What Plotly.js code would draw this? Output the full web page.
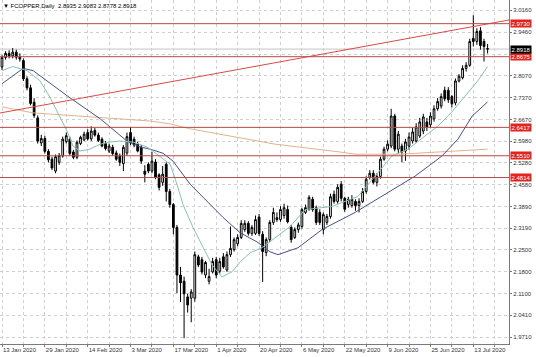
<!DOCTYPE html>
<html><head><meta charset="utf-8">
<script src="https://cdn.plot.ly/plotly-3.0.1.min.js"></script>
<style>html,body{margin:0;padding:0;background:#fff}#c{width:536px;height:357px}</style>
</head><body><div id="c"></div>
<script>
// Daily FCOPPER candles (bar index 0 = 13 Jan 2020)
const openP = [2.835,2.865,2.878,2.870,2.882,2.866,2.855,2.797,2.768,2.722,
2.672,2.592,2.606,2.565,2.540,2.502,2.530,2.550,2.596,2.604,
2.563,2.546,2.590,2.602,2.625,2.605,2.632,2.617,2.604,2.590,
2.566,2.578,2.560,2.550,2.526,2.560,2.625,2.604,2.588,2.579,
2.502,2.524,2.502,2.531,2.490,2.466,2.524,2.437,2.395,2.322,
2.170,2.150,2.100,2.096,2.096,2.228,2.219,2.170,2.150,2.180,
2.219,2.182,2.228,2.186,2.235,2.251,2.270,2.290,2.315,2.335,
2.303,2.303,2.355,2.300,2.242,2.283,2.338,2.353,2.347,2.360,
2.379,2.322,2.290,2.315,2.325,2.370,2.380,2.412,2.385,2.370,
2.315,2.338,2.357,2.428,2.405,2.460,2.415,2.395,2.392,2.405,
2.392,2.405,2.437,2.482,2.495,2.466,2.485,2.540,2.572,2.582,
2.678,2.572,2.582,2.566,2.582,2.598,2.598,2.614,2.630,2.659,
2.650,2.669,2.701,2.710,2.760,2.760,2.740,2.720,2.790,2.800,
2.830,2.840,2.926,2.916,2.950,2.916,2.8935];
const highP = [2.872,2.885,2.888,2.895,2.890,2.878,2.862,2.805,2.778,2.735,
2.680,2.618,2.615,2.572,2.548,2.555,2.560,2.612,2.625,2.612,
2.570,2.600,2.615,2.628,2.636,2.645,2.640,2.625,2.610,2.598,
2.590,2.586,2.568,2.558,2.585,2.625,2.643,2.612,2.596,2.585,
2.521,2.530,2.563,2.540,2.495,2.518,2.530,2.445,2.400,2.330,
2.196,2.165,2.110,2.125,2.245,2.235,2.228,2.215,2.190,2.225,
2.228,2.225,2.240,2.245,2.325,2.290,2.300,2.345,2.345,2.342,
2.330,2.360,2.365,2.310,2.290,2.345,2.385,2.370,2.390,2.398,
2.392,2.330,2.322,2.338,2.385,2.395,2.425,2.420,2.392,2.380,
2.370,2.365,2.430,2.440,2.460,2.470,2.420,2.420,2.425,2.412,
2.415,2.448,2.485,2.505,2.505,2.495,2.548,2.580,2.600,2.701,
2.685,2.630,2.590,2.605,2.625,2.640,2.655,2.672,2.685,2.672,
2.690,2.712,2.735,2.750,2.772,2.770,2.745,2.798,2.812,2.840,
2.850,2.925,3.000,2.958,2.962,2.925,2.9083];
const lowP = [2.825,2.858,2.862,2.862,2.858,2.852,2.790,2.760,2.712,2.672,
2.590,2.582,2.558,2.530,2.505,2.495,2.522,2.545,2.590,2.552,
2.540,2.540,2.585,2.598,2.600,2.598,2.612,2.595,2.578,2.568,
2.560,2.552,2.535,2.518,2.502,2.552,2.585,2.578,2.562,2.525,
2.466,2.495,2.495,2.476,2.440,2.455,2.405,2.385,2.300,2.112,
2.084,1.968,2.050,2.019,2.085,2.195,2.172,2.160,2.140,2.175,
2.160,2.175,2.190,2.180,2.228,2.245,2.262,2.285,2.308,2.296,
2.295,2.298,2.295,2.148,2.230,2.275,2.330,2.340,2.340,2.350,
2.335,2.273,2.285,2.305,2.318,2.365,2.375,2.372,2.330,2.330,
2.300,2.330,2.350,2.398,2.398,2.405,2.372,2.385,2.385,2.375,
2.370,2.400,2.430,2.475,2.460,2.453,2.478,2.535,2.565,2.575,
2.565,2.560,2.530,2.535,2.570,2.590,2.592,2.608,2.620,2.630,
2.640,2.660,2.695,2.702,2.725,2.720,2.705,2.712,2.785,2.795,
2.820,2.835,2.900,2.905,2.890,2.852,2.8778];
const closeP = [2.865,2.878,2.870,2.882,2.866,2.860,2.797,2.768,2.718,2.680,
2.598,2.606,2.565,2.538,2.512,2.548,2.552,2.604,2.615,2.558,
2.546,2.594,2.610,2.620,2.605,2.630,2.617,2.600,2.582,2.574,
2.582,2.558,2.540,2.530,2.578,2.612,2.592,2.585,2.566,2.534,
2.492,2.502,2.534,2.482,2.450,2.492,2.437,2.395,2.322,2.170,
2.145,2.110,2.074,2.116,2.235,2.202,2.180,2.210,2.165,2.213,
2.170,2.213,2.196,2.235,2.255,2.283,2.290,2.335,2.335,2.303,
2.322,2.347,2.303,2.245,2.283,2.338,2.370,2.347,2.379,2.385,
2.340,2.283,2.315,2.330,2.379,2.385,2.418,2.379,2.338,2.338,
2.363,2.357,2.420,2.405,2.450,2.415,2.380,2.412,2.412,2.392,
2.405,2.437,2.476,2.495,2.466,2.485,2.540,2.572,2.588,2.678,
2.572,2.620,2.563,2.595,2.611,2.627,2.643,2.659,2.675,2.643,
2.678,2.701,2.724,2.740,2.733,2.730,2.717,2.790,2.805,2.830,
2.840,2.916,2.916,2.948,2.903,2.900,2.8918];

// time axis ticks (bar index) and labels
const tickIndex = [0,6,12,18,24,30,36,42,48,54,60,66,72,78,84,90,96,102,108,114,120,126,132,138];
const tickLabels = ['13 Jan 2020','','29 Jan 2020','','14 Feb 2020','','3 Mar 2020','','17 Mar 2020','',
'1 Apr 2020','','20 Apr 2020','','6 May 2020','','22 May 2020','','9 Jun 2020','','25 Jun 2020','','13 Jul 2020',''];

// price scale
const priceTicks = [1.9710,2.0410,2.1100,2.1800,2.2500,2.3190,2.3890,2.4580,2.5280,2.5980,2.6670,2.7370,2.8070,2.8760,2.9460,3.0160];
const priceTickLabels = ['1.9710','2.0410','2.1100','2.1800','2.2500','2.3190','2.3890','2.4580','2.5280','2.5980','2.6670','2.7370','2.8070','','2.9460','3.0160'];

// horizontal levels, last price, trendline
const levels = [2.9730, 2.8675, 2.6417, 2.5510, 2.4814];
const lastPrice = 2.8918;
const trendX = [-1, 143];
const trendY = [2.6867, 2.9868];

// moving averages (bar index, price)
const maFastX = [0,3,7,10.6,13.4,16.2,18.2,19.9,21.8,24.6,27.5,30.3,33,36.7,40.6,43.4,47.1,49,50.7,53.5,56.3,58.8,61.6,64.4,66.7,69.5,72.8,76.5,80.7,84.9,92.4,99.7,104.5,109.2,113.7,118.5,122.1,126,129.7,133.3,136];
const maFastY = [2.823,2.836,2.823,2.791,2.739,2.675,2.630,2.582,2.566,2.572,2.588,2.595,2.598,2.595,2.579,2.556,2.524,2.460,2.395,2.322,2.257,2.203,2.164,2.180,2.212,2.241,2.257,2.289,2.325,2.379,2.389,2.421,2.486,2.550,2.572,2.614,2.646,2.691,2.743,2.791,2.836];
const maSlowX = [0,5.9,8.7,18.2,27.5,35,38.7,41.5,45.1,47.9,52.7,57.4,61.9,66.7,71.4,75.1,77.3,82.9,89.6,98.9,101.7,110.9,115.7,123.2,127.7,131.7,136];
const maSlowY = [2.781,2.830,2.823,2.743,2.669,2.598,2.579,2.572,2.559,2.534,2.460,2.405,2.354,2.305,2.276,2.244,2.235,2.257,2.315,2.370,2.389,2.453,2.486,2.550,2.604,2.678,2.723];
const maLongX = [0,8.7,41.5,47.1,52.7,76.5,94.7,98.9,111.5,136];
const maLongY = [2.707,2.688,2.662,2.653,2.637,2.588,2.563,2.556,2.556,2.572];

const idx = closeP.map((_, i) => i);

const traces = [
  {type:'scatter', mode:'lines', x:maLongX, y:maLongY, line:{color:'#ddb58e', width:1}, hoverinfo:'skip'},
  {type:'scatter', mode:'lines', x:maSlowX, y:maSlowY, line:{color:'#46518a', width:1}, hoverinfo:'skip'},
  {type:'scatter', mode:'lines', x:maFastX, y:maFastY, line:{color:'#86c2ac', width:1}, hoverinfo:'skip'},
  {type:'scatter', mode:'lines', x:trendX, y:trendY, line:{color:'#d94a46', width:1}, hoverinfo:'skip'},
  {type:'candlestick', x:idx, open:openP, high:highP, low:lowP, close:closeP,
   increasing:{line:{color:'#000', width:1}, fillcolor:'#ffffff'},
   decreasing:{line:{color:'#000', width:1}, fillcolor:'#000000'},
   whiskerwidth:0, hoverinfo:'skip'}
];

const shapes = levels.map(v => ({type:'line', xref:'paper', x0:0, x1:1, yref:'y', y0:v, y1:v,
  line:{color:'#b84a46', width:1}}));
shapes.push({type:'line', xref:'paper', x0:0, x1:1, yref:'y', y0:lastPrice, y1:lastPrice,
  line:{color:'#c4c4c4', width:1}, layer:'below'});

const lblFont = {family:'Liberation Sans, Arial, sans-serif', size:6, color:'#ffffff'};
const annotations = levels.map(v => ({xref:'paper', x:1, xanchor:'left', xshift:1, yref:'y', y:v, yanchor:'middle',
  text:v.toFixed(4), showarrow:false, bgcolor:'#e2231f', font:lblFont, borderpad:0.5}));
annotations.push({xref:'paper', x:1, xanchor:'left', xshift:1, yref:'y', y:lastPrice, yanchor:'middle',
  text:lastPrice.toFixed(4), showarrow:false, bgcolor:'#000000', font:lblFont, borderpad:0.5});
annotations.push({xref:'paper', x:0, xanchor:'left', xshift:1, yref:'paper', y:1, yanchor:'top', yshift:-1,
  text:'▼ FCOPPER,Daily  ' + [openP[136], highP[136], lowP[136], closeP[136]].map(v => v.toFixed(4)).join(' '),
  showarrow:false, font:{family:'Liberation Sans, Arial, sans-serif', size:6, color:'#000'}});

const layout = {
  width:536, height:357,
  margin:{l:0, r:27, t:0, b:13, pad:0},
  paper_bgcolor:'#ffffff', plot_bgcolor:'#ffffff',
  showlegend:false,
  xaxis:{range:[-0.56, 142.0], tickmode:'array', tickvals:tickIndex, ticktext:tickLabels,
    showgrid:true, gridcolor:'#cfcfcf', griddash:'dot', gridwidth:1,
    zeroline:false, showline:true, linecolor:'#7a7a7a', linewidth:1,
    ticks:'outside', ticklen:2, tickcolor:'#7a7a7a', tickangle:0,
    ticklabelposition:'outside right',
    tickfont:{family:'Liberation Sans, Arial, sans-serif', size:6, color:'#333'},
    rangeslider:{visible:false}, fixedrange:true},
  yaxis:{side:'right', range:[1.9496, 3.0486], tickmode:'array', tickvals:priceTicks, ticktext:priceTickLabels,
    showgrid:true, gridcolor:'#cfcfcf', griddash:'dot', gridwidth:1,
    zeroline:false, showline:true, linecolor:'#7a7a7a', linewidth:1,
    ticks:'outside', ticklen:2, tickcolor:'#7a7a7a',
    tickfont:{family:'Liberation Sans, Arial, sans-serif', size:6, color:'#333'}, fixedrange:true},
  shapes:shapes,
  annotations:annotations
};

Plotly.newPlot('c', traces, layout, {staticPlot:true, displayModeBar:false});
</script>
</body></html>
